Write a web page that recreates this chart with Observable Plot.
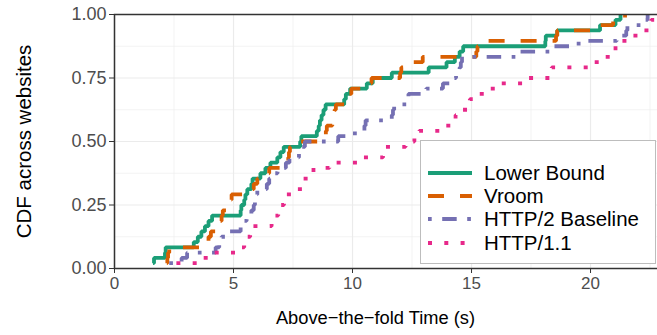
<!DOCTYPE html>
<html>
<head>
<meta charset="utf-8">
<script src="https://cdn.jsdelivr.net/npm/d3@7"></script>
<script src="https://cdn.jsdelivr.net/npm/@observablehq/plot@0.6"></script>
<style>
  html, body { margin: 0; padding: 0; overflow: hidden; background: #fff; }
  #chart { position: relative; width: 657px; height: 335px; overflow: hidden;
           font-family: "Liberation Sans", Arial, sans-serif; }
  #chart svg { display: block; max-width: none !important; }
  #legend { position: absolute; left: 420px; top: 140px; width: 236px; height: 124px;
            box-sizing: border-box; border: 1px solid #bdbdbd; background: #fff; }
  .key { position: absolute; left: 0; display: flex; align-items: center; height: 22px; }
  .key svg { margin-left: 7px; }
  .key span { margin-left: 12px; font-size: 20.5px; color: #000; white-space: nowrap; }
</style>
</head>
<body>
<div id="chart"></div>
<script>
// Above-the-fold load times (seconds) for the 48 test websites, per configuration.
const seriesNames = ["Lower Bound", "Vroom", "HTTP/2 Baseline", "HTTP/1.1"];

const lowerBound = [1.62, 1.66, 2.12, 2.15, 3.33, 3.5, 3.65, 3.8, 3.95, 4.1,
  5.3, 5.33, 5.45, 5.5, 5.58, 5.75, 5.8, 6.13, 6.34, 6.55, 6.84, 6.97, 7.11,
  7.8, 7.85, 8.5, 8.58, 8.63, 8.7, 8.78, 8.87, 9.65, 9.72, 9.9, 10.6, 10.85,
  11.65, 13.2, 13.95, 14.3, 14.5, 14.65, 18.1, 18.12, 18.6, 20.4, 21.05, 21.26];

const vroom = [2.2, 2.22, 2.25, 2.3, 3.85, 3.95, 4.05, 4.4, 4.45, 4.5, 4.55,
  4.85, 4.88, 4.92, 5.7, 5.85, 6.0, 6.4, 6.5, 7.0, 7.3, 7.33, 7.37, 7.42,
  8.85, 8.88, 8.92, 9.15, 9.2, 9.25, 9.3, 9.8, 9.85, 9.95, 10.7, 10.8, 12.0,
  12.05, 12.15, 12.95, 15.2, 15.25, 15.3, 18.55, 18.6, 20.4, 20.95, 21.45];

const http2 = [2.3, 2.82, 3.05, 4.25, 4.4, 4.5, 4.8, 5.3, 5.4, 5.55, 5.75,
  5.85, 5.9, 5.95, 6.0, 6.4, 6.5, 6.7, 6.85, 7.2, 7.35, 7.75, 7.85, 8.0, 9.4,
  10.1, 10.5, 10.55, 11.65, 11.7, 11.75, 12.3, 12.35, 13.1, 13.8, 14.25,
  14.35, 14.5, 14.55, 14.6, 16.85, 18.3, 19.5, 21.1, 21.5, 21.55, 22.1, 22.4];

const http11 = [2.6, 3.53, 4.03, 5.08, 5.45, 5.5, 5.7, 5.75, 6.6, 6.65, 6.88,
  6.92, 7.12, 7.16, 7.5, 7.88, 7.92, 8.33, 8.36, 9.03, 10.2, 11.28, 11.32,
  12.23, 12.6, 12.8, 13.9, 14.25, 14.33, 14.62, 14.9, 14.93, 15.25, 15.7,
  16.2, 17.3, 18.33, 18.37, 20.1, 20.55, 21.0, 21.05, 21.3, 21.72, 22.18,
  22.5, 22.55, 22.75];

const seriesValues = [lowerBound, vroom, http2, http11];
const seriesColors = ["#1B9E77", "#D95F02", "#7570B3", "#E7298A"];
const seriesDash = [null, "16,16", "3.7,10.5,14.5,10.5", "4,12.3"];

const xTicks = [0, 5, 10, 15, 20];
const xMinorTicks = [2.5, 7.5, 12.5, 17.5, 22.5];
const yTicks = [0, 0.25, 0.5, 0.75, 1];
const yMinorTicks = [0.125, 0.375, 0.625, 0.875];
const xTitle = "Above\u2212the\u2212fold Time (s)";
const yTitle = "CDF across websites";

// Empirical CDF rows: the i-th fastest site reaches (i+1)/n.
function ecdf(values, name) {
  const sorted = [...values].sort((a, b) => a - b);
  return sorted.map((v, i) => ({series: name, time: v, frac: (i + 1) / sorted.length}));
}
const cdfs = seriesValues.map((vals, i) => ecdf(vals, seriesNames[i]));

const lineWidth = 3.8;
const gridColor = "#ebebeb";
const inkColor = "#333333";

const plot = Plot.plot({
  width: 680,
  height: 335,
  marginLeft: 114,
  marginRight: 20,
  marginTop: 14,
  marginBottom: 67,
  style: {fontFamily: "'Liberation Sans', Arial, sans-serif", fontSize: "16px", background: "#fff"},
  x: {domain: [0, 22.94]},
  y: {domain: [0, 1]},
  marks: [
    Plot.gridX(xMinorTicks, {stroke: gridColor, strokeOpacity: 1, strokeWidth: 0.6}),
    Plot.gridY(yMinorTicks, {stroke: gridColor, strokeOpacity: 1, strokeWidth: 0.6}),
    Plot.gridX(xTicks, {stroke: gridColor, strokeOpacity: 1, strokeWidth: 1.2}),
    Plot.gridY(yTicks, {stroke: gridColor, strokeOpacity: 1, strokeWidth: 1.2}),
    ...cdfs.map((rows, i) => Plot.line(rows, {
      x: "time", y: "frac", curve: "step-after",
      stroke: seriesColors[i], strokeWidth: lineWidth,
      strokeDasharray: seriesDash[i], strokeLinecap: "butt", strokeLinejoin: "miter"
    })),
    Plot.frame({stroke: inkColor, strokeWidth: 1.5}),
    Plot.axisX(xTicks, {tickSize: 5, tickPadding: 3, stroke: inkColor, fill: "#4d4d4d",
      fontSize: 17, label: null}),
    Plot.axisY(yTicks, {tickSize: 5, tickPadding: 3, stroke: inkColor, fill: "#4d4d4d",
      fontSize: 18, tickFormat: d3.format(".2f"), label: null}),
    Plot.text([xTitle], {frameAnchor: "bottom", dy: 55, dx: -12, fontSize: 18.3, fill: "#000"}),
    Plot.text([yTitle], {frameAnchor: "left", dx: -90, rotate: -90, textAnchor: "middle",
      fontSize: 20.5, fill: "#000"})
  ]
});

const chart = document.getElementById("chart");
chart.appendChild(plot);

// Legend box inside the lower-right corner of the panel.
const legend = document.createElement("div");
legend.id = "legend";
const rowTops = [21, 44, 67, 91];
seriesNames.forEach((name, i) => {
  const row = document.createElement("div");
  row.className = "key";
  row.style.top = rowTops[i] + "px";
  const ns = "http://www.w3.org/2000/svg";
  const sw = document.createElementNS(ns, "svg");
  sw.setAttribute("width", 44);
  sw.setAttribute("height", 12);
  const ln = document.createElementNS(ns, "line");
  ln.setAttribute("x1", 0); ln.setAttribute("x2", 44);
  ln.setAttribute("y1", 6); ln.setAttribute("y2", 6);
  ln.setAttribute("stroke", seriesColors[i]);
  ln.setAttribute("stroke-width", lineWidth);
  if (seriesDash[i]) ln.setAttribute("stroke-dasharray", seriesDash[i]);
  sw.appendChild(ln);
  const label = document.createElement("span");
  label.textContent = name;
  row.appendChild(sw);
  row.appendChild(label);
  legend.appendChild(row);
});
chart.appendChild(legend);
</script>
</body>
</html>
